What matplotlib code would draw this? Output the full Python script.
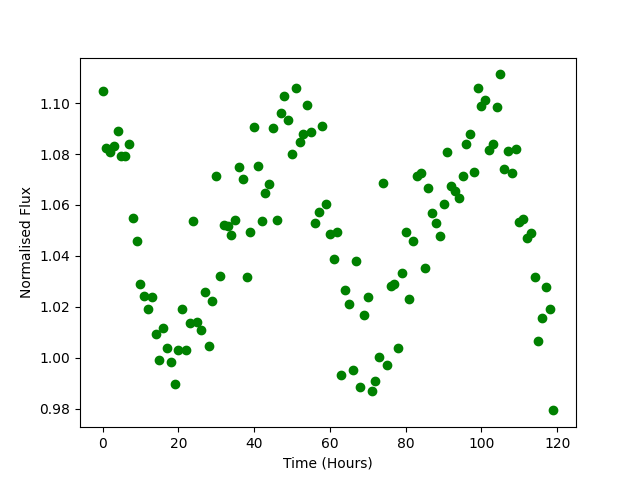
import numpy as np
import matplotlib
matplotlib.use("Agg")
import matplotlib.pyplot as plt

# time in hours, one reading per hour
time = np.arange(120)

flux = [
    1.1049, 1.0822, 1.0809, 1.0833, 1.0889, 1.0793, 1.0793, 1.0841, 1.0550, 1.0460,
    1.0291, 1.0241, 1.0190, 1.0237, 1.0095, 0.9992, 1.0115, 1.0037, 0.9982, 0.9895,
    1.0032, 1.0190, 1.0032, 1.0138, 1.0538, 1.0142, 1.0107, 1.0257, 1.0045, 1.0224,
    1.0715, 1.0322, 1.0521, 1.0517, 1.0484, 1.0542, 1.0748, 1.0704, 1.0316, 1.0492,
    1.0907, 1.0754, 1.0538, 1.0648, 1.0684, 1.0903, 1.0542, 1.0963, 1.1029, 1.0935,
    1.0801, 1.1060, 1.0848, 1.0877, 1.0991, 1.0885, 1.0530, 1.0574, 1.0912, 1.0605,
    1.0486, 1.0386, 1.0495, 0.9931, 1.0265, 1.0210, 0.9953, 1.0378, 0.9886, 1.0166,
    1.0237, 0.9868, 0.9907, 1.0001, 1.0687, 0.9970, 1.0283, 1.0291, 1.0037, 1.0334,
    1.0495, 1.0229, 1.0457, 1.0715, 1.0727, 1.0351, 1.0665, 1.0567, 1.0528, 1.0480,
    1.0602, 1.0809, 1.0676, 1.0654, 1.0628, 1.0715, 1.0841, 1.0880, 1.0731, 1.1060,
    1.0990, 1.1011, 1.0817, 1.0841, 1.0986, 1.1113, 1.0740, 1.0813, 1.0727, 1.0818,
    1.0534, 1.0546, 1.0469, 1.0488, 1.0316, 1.0067, 1.0155, 1.0279, 1.0190, 0.9793,
]

plt.figure(figsize=(6.4, 4.8), dpi=100)
plt.scatter(time, flux, color="g")
plt.xlabel("Time (Hours)")
plt.ylabel("Normalised Flux")
plt.savefig("out.png")
